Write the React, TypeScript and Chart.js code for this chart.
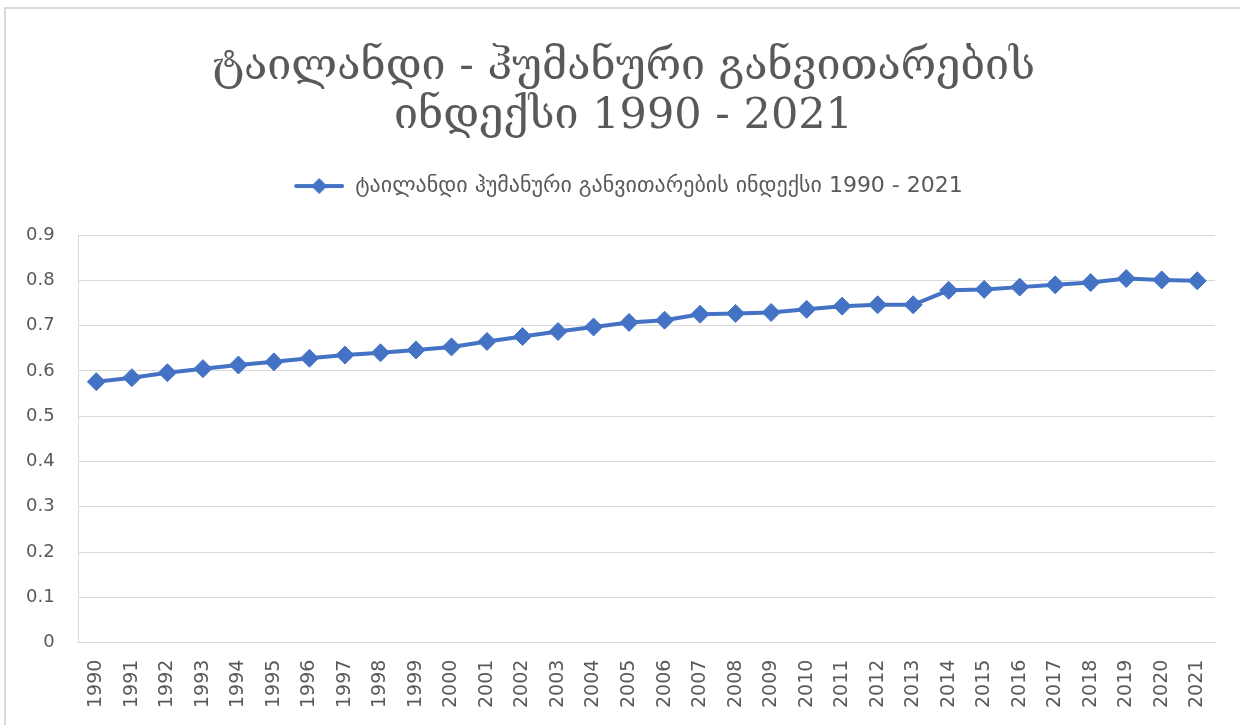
import React, { useEffect, useRef } from "react";
import { Chart, registerables } from "chart.js";

Chart.register(...registerables);

const titleLines = ["ტაილანდი - ჰუმანური განვითარების", "ინდექსი 1990 - 2021"];
const seriesName = "ტაილანდი ჰუმანური განვითარების ინდექსი 1990 - 2021";
const years = [
  "1990", "1991", "1992", "1993", "1994", "1995", "1996", "1997", "1998", "1999",
  "2000", "2001", "2002", "2003", "2004", "2005", "2006", "2007", "2008", "2009",
  "2010", "2011", "2012", "2013", "2014", "2015", "2016", "2017", "2018", "2019",
  "2020", "2021",
];
const hdiValues = [
  0.576, 0.585, 0.596, 0.605, 0.613, 0.620, 0.628, 0.635, 0.640, 0.646,
  0.653, 0.665, 0.676, 0.687, 0.697, 0.707, 0.712, 0.725, 0.727, 0.729,
  0.736, 0.743, 0.746, 0.746, 0.778, 0.780, 0.785, 0.790, 0.795, 0.804,
  0.801, 0.799,
];
const yTicks = [0, 0.1, 0.2, 0.3, 0.4, 0.5, 0.6, 0.7, 0.8, 0.9];

const BLUE = "#4472C4";
const TEXT = "#595959";
const GRID = "#D9D9D9";

function makeLegendIcon(): HTMLCanvasElement {
  const c = document.createElement("canvas");
  c.width = 50;
  c.height = 18;
  const ctx = c.getContext("2d")!;
  ctx.strokeStyle = BLUE;
  ctx.lineWidth = 4;
  ctx.lineCap = "round";
  ctx.beginPath();
  ctx.moveTo(2, 9);
  ctx.lineTo(48, 9);
  ctx.stroke();
  ctx.fillStyle = BLUE;
  ctx.beginPath();
  ctx.moveTo(25, 1);
  ctx.lineTo(33, 9);
  ctx.lineTo(25, 17);
  ctx.lineTo(17, 9);
  ctx.closePath();
  ctx.fill();
  return c;
}

const legendSpacing = {
  id: "legendSpacing",
  beforeInit(chart: any) {
    const legend = chart.legend;
    if (!legend) return;
    const origFit = legend.fit;
    legend.fit = function () {
      origFit.call(this);
      this.height += 28;
    };
  },
  afterLayout(chart: any) {
    if (chart.titleBlock) {
      chart.titleBlock.left += 15;
      chart.titleBlock.right += 15;
    }
    if (chart.legend) {
      chart.legend.left += 20;
      chart.legend.right += 20;
    }
  },
};

export default function App() {
  const ref = useRef<HTMLCanvasElement>(null);
  useEffect(() => {
    if (!ref.current) return;
    const icon = makeLegendIcon();
    const chart = new Chart(ref.current, {
      type: "line",
      data: {
        labels: years,
        datasets: [
          {
            label: seriesName,
            data: hdiValues,
            borderColor: BLUE,
            backgroundColor: BLUE,
            borderWidth: 4,
            pointStyle: "rectRot",
            pointRadius: 9,
            pointHoverRadius: 9,
            pointBackgroundColor: BLUE,
            pointBorderColor: BLUE,
            pointBorderWidth: 1,
            tension: 0,
          },
        ],
      },
      plugins: [legendSpacing],
      options: {
        animation: false,
        responsive: false,
        layout: { padding: { top: 0, right: 25, bottom: 0, left: 2 } },
        plugins: {
          title: {
            display: true,
            text: titleLines,
            color: TEXT,
            font: { family: "'DejaVu Serif', 'DejaVu Sans', serif", size: 43, weight: "normal", lineHeight: 1.14 },
            padding: { top: 43, bottom: 26 },
          },
          legend: {
            display: true,
            position: "top",
            labels: {
              color: TEXT,
              font: { family: "'DejaVu Sans', sans-serif", size: 22 },
              usePointStyle: true,
              pointStyleWidth: 50,
              boxHeight: 18,
              padding: 8,
              generateLabels: () => [
                {
                  text: seriesName,
                  fillStyle: BLUE,
                  strokeStyle: BLUE,
                  lineWidth: 0,
                  pointStyle: icon,
                  datasetIndex: 0,
                  hidden: false,
                  fontColor: TEXT,
                },
              ],
            },
          },
          tooltip: { enabled: false },
        },
        scales: {
          x: {
            offset: true,
            grid: { display: false, drawTicks: false },
            border: { display: true, color: GRID, width: 1 },
            ticks: {
              color: TEXT,
              font: { family: "'DejaVu Sans', sans-serif", size: 19 },
              minRotation: 90,
              maxRotation: 90,
              autoSkip: false,
              padding: 17,
            },
          },
          y: {
            min: 0,
            max: 0.9,
            grid: { color: GRID, lineWidth: 1, drawTicks: false },
            border: { display: true, color: GRID, width: 1 },
            afterBuildTicks: (axis: any) => {
              axis.ticks = yTicks.map((v) => ({ value: v }));
            },
            ticks: {
              color: TEXT,
              font: { family: "'DejaVu Sans', sans-serif", size: 18 },
              padding: 24,
              callback: (v: any) => String(Math.round(Number(v) * 10) / 10),
            },
          },
        },
      },
    });
    return () => chart.destroy();
  }, []);
  return (
    <div style={{ position: "fixed", left: 0, top: 0, width: 1240, height: 725, background: "#fff", overflow: "hidden" }}>
      <div style={{ position: "absolute", left: 4, top: 7, width: 1300, height: 800, border: `2px solid ${GRID}`, boxSizing: "border-box" }} />
      <canvas ref={ref} width={1240} height={725} style={{ position: "absolute", left: 0, top: 0 }} />
    </div>
  );
}
